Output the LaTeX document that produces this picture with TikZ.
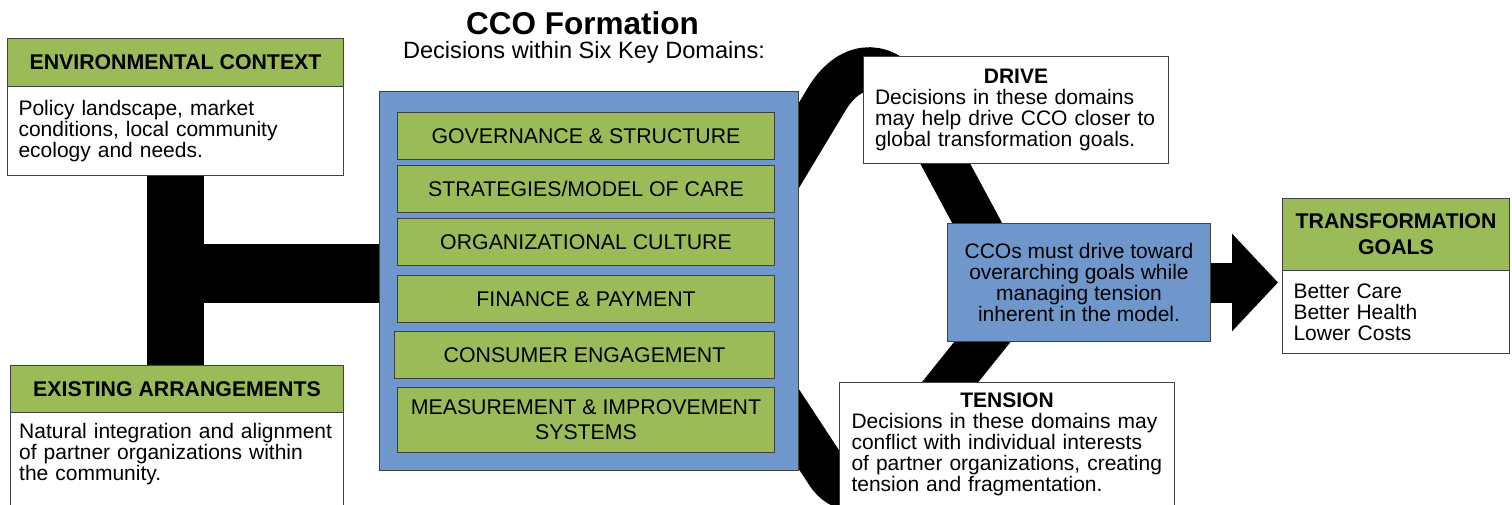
\documentclass[tikz,border=0pt]{standalone}
\usepackage{fontspec}
\setmainfont{Liberation Sans}
\usetikzlibrary{arrows.meta,backgrounds,calc}

\definecolor{domgreen}{RGB}{155,187,89}
\definecolor{ccoblue}{RGB}{112,151,204}
\definecolor{edge}{RGB}{64,64,64}

\tikzset{
    every node/.style={font=\fontsize{21}{21}\selectfont, inner sep=0pt},
    hdrbox/.style={draw=edge, line width=1pt, fill=domgreen, anchor=north west,
        align=center, font=\fontsize{21.3}{21}\selectfont\bfseries},
    txtbox/.style={draw=edge, line width=1pt, fill=white, anchor=north west, align=left},
    dombox/.style={draw=edge, line width=1pt, fill=domgreen, anchor=north west,
        align=center, minimum width=377pt, minimum height=47pt,
        font=\fontsize{21.3}{21}\selectfont},
    band/.style={line width=44pt, black},
}

\begin{document}
\begin{tikzpicture}[x=1pt, y=-1pt]
    \useasboundingbox (0, 0) rectangle (1512, 505);

    % title over the CCO box
    \node[font=\fontsize{31.5}{30}\selectfont\bfseries, anchor=base] (title) at (582.5, 35) {CCO Formation};
    \node[font=\fontsize{23.6}{23}\selectfont, anchor=base] (subtitle) at (584, 59) {Decisions within Six Key Domains:};

    % left column
    \node[hdrbox, minimum width=336pt, minimum height=48pt] (ech) at (7, 38) {ENVIRONMENTAL CONTEXT};
    \node[txtbox, minimum width=336pt, minimum height=89pt, text width=314pt] (ecb) at (7, 86)
        {Policy landscape, market\\conditions, local community\\ecology and needs.};
    \node[hdrbox, minimum width=333pt, minimum height=47pt] (eah) at (10, 365) {EXISTING ARRANGEMENTS};
    % body runs off the bottom edge, so its text is set on its own
    \node[txtbox, minimum width=333pt, minimum height=140pt] (eab) at (10, 412) {};
    \node[anchor=north west, text width=322pt, align=left] (eatext) at (19, 423)
        {Natural integration and alignment\\of partner organizations within\\the community.};

    % CCO box with the six domains
    \node[draw=edge, line width=1pt, fill=ccoblue, anchor=north west,
        minimum width=419pt, minimum height=379pt] (cco) at (379, 91) {};
    \node[dombox] (gov) at (397, 112) {GOVERNANCE \& STRUCTURE};
    \node[dombox] (strat) at (397, 165) {STRATEGIES/MODEL OF CARE};
    \node[dombox] (cult) at (397, 218) {ORGANIZATIONAL CULTURE};
    \node[dombox] (fin) at (397, 275) {FINANCE \& PAYMENT};
    \node[dombox, minimum width=380pt] (cons) at (394, 331) {CONSUMER ENGAGEMENT};
    \node[dombox, minimum height=65pt] (meas) at (397, 387) {MEASUREMENT \& IMPROVEMENT\\[4pt]SYSTEMS};

    % drive / tension
    \node[txtbox, minimum width=305pt, minimum height=107pt, text width=282pt] (drive) at (863, 56)
        {{\centering\bfseries DRIVE\par}Decisions in these domains\\may help drive CCO closer to\\global transformation goals.};
    \node[draw=edge, line width=1pt, fill=ccoblue, anchor=north west, align=center,
        minimum width=263pt, minimum height=118pt] (mid) at (947, 223)
        {CCOs must drive toward\\overarching goals while\\managing tension\\inherent in the model.};
    \node[txtbox, minimum width=335pt, minimum height=140pt] (tension) at (839, 382) {};
    \node[anchor=north, text width=311pt, align=left] (tenstext) at ($(tension.north)+(0, 11)$)
        {{\centering\bfseries TENSION\par}Decisions in these domains may\\conflict with individual interests\\of partner organizations, creating\\tension and fragmentation.};

    % goals
    \node[hdrbox, minimum width=227pt, minimum height=72pt] (goalh) at (1282, 198) {TRANSFORMATION\\[5pt]GOALS};
    \node[txtbox, minimum width=227pt, minimum height=83pt, text width=205pt] (goalb) at (1282, 270)
        {Better Care\\Better Health\\Lower Costs};

    % black bands behind the boxes
    \begin{pgfonlayer}{background}
        \coordinate (tjoin) at (175.5, 273.5);
        \draw[line width=57pt] (ecb.south) -- (ecb.south |- eah.north);
        \draw[line width=59pt] (tjoin) -- (tjoin -| cco.west);

        % up out of the CCO box, over the top behind DRIVE, down into the middle box
        \coordinate (drvin) at (766, 200);
        \coordinate (drvtop) at (871, 25.5);
        \coordinate (drvout) at (997, 260);
        \draw[band, rounded corners=86pt] (drvin) -- (drvtop) -- (drvout);

        % same below, behind TENSION
        \coordinate (tnsin) at (760, 370);
        \coordinate (tnsbot) at (850, 507);
        \coordinate (tnsout) at (1016, 300);
        \draw[band, rounded corners=40pt] (tnsin) -- (tnsbot) -- (tnsout);

        \draw[line width=40pt, -{Triangle[length=46pt, width=95pt]}, shorten >=4pt]
            (mid.east) -- (mid.east -| goalb.west);
    \end{pgfonlayer}
\end{tikzpicture}
\end{document}
